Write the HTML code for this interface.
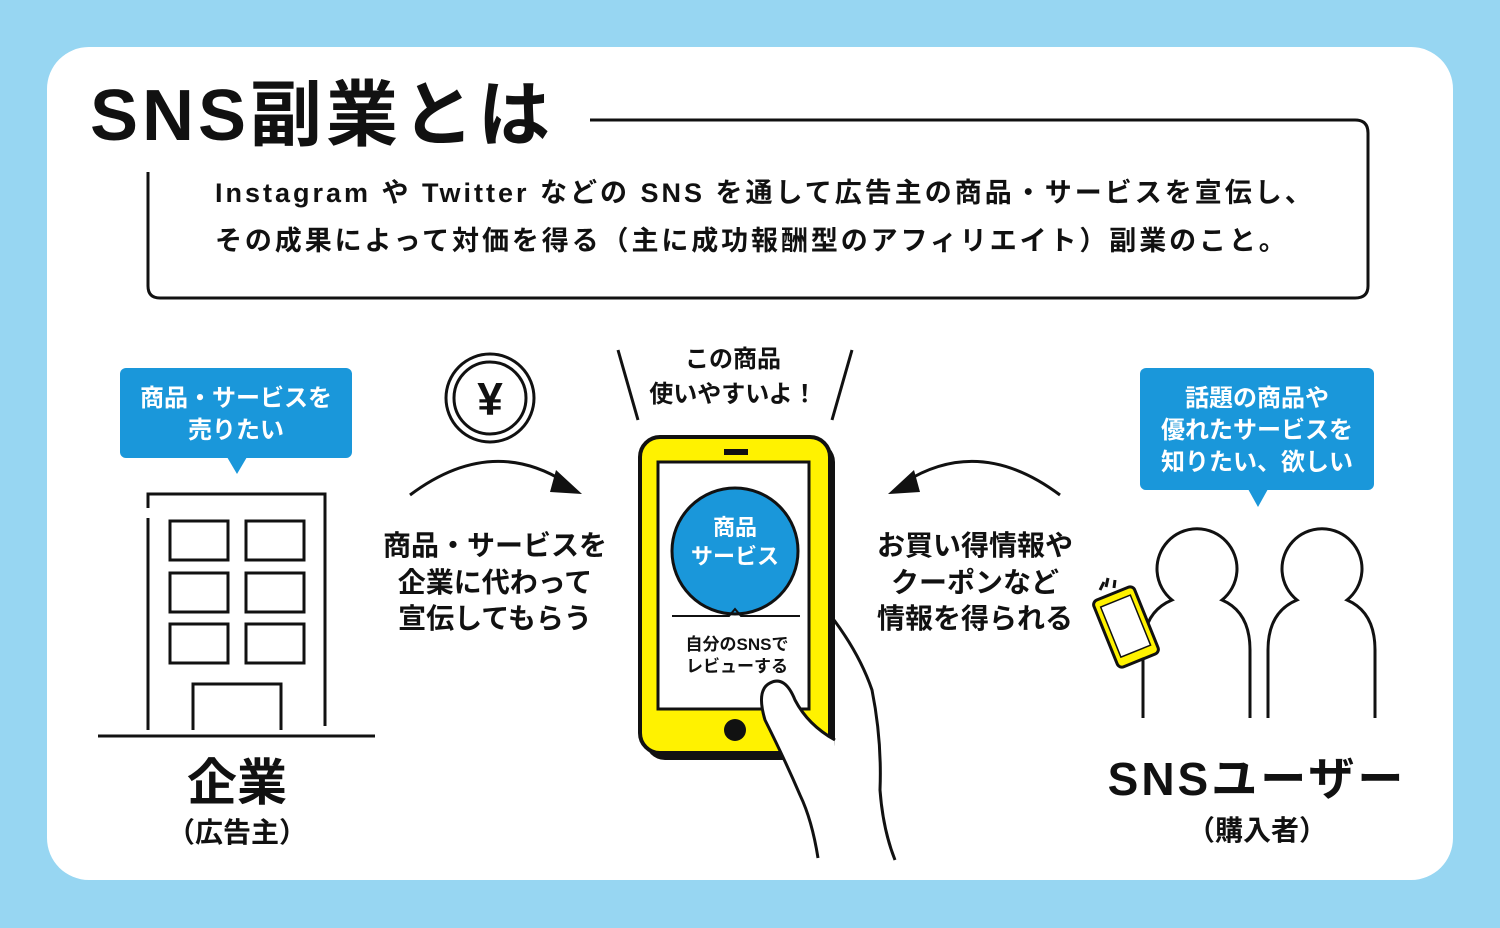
<!DOCTYPE html>
<html><head><meta charset="utf-8"><style>
html,body{margin:0;padding:0;width:1500px;height:928px;overflow:hidden;background:#97d6f2}
svg{display:block}
text{font-family:"Liberation Sans","Noto Sans CJK JP",sans-serif;font-weight:bold;fill:#111}
</style></head><body>
<svg width="1500" height="928" viewBox="0 0 1500 928">
<rect x="0" y="0" width="1500" height="928" fill="#97d6f2"/>
<rect x="47" y="47" width="1406" height="833" rx="42" fill="#fff"/>
<text x="90" y="140" font-size="72" letter-spacing="4">SNS副業とは</text>
<path d="M590 120 H1355 Q1368 120 1368 133 V286 Q1368 298 1355 298 H160 Q148 298 148 286 V172" fill="none" stroke="#111" stroke-width="3"/>
<text x="215" y="202" font-size="27" letter-spacing="3">Instagram や Twitter などの SNS を通して広告主の商品・サービスを宣伝し、</text>
<text x="215" y="250" font-size="27" letter-spacing="2.9">その成果によって対価を得る（主に成功報酬型のアフィリエイト）副業のこと。</text>

<!-- left bubble -->
<rect x="120" y="368" width="232" height="90" rx="6" fill="#1a97da"/>
<path d="M227 457 L237 474 L247 457 Z" fill="#1a97da"/>
<text x="236" y="406" font-size="24" text-anchor="middle" style="fill:#fff">商品・サービスを</text>
<text x="236" y="438" font-size="24" text-anchor="middle" style="fill:#fff">売りたい</text>

<!-- building -->
<g fill="none" stroke="#111" stroke-width="3">
<path d="M148 508 V494 H325 V726"/>
<path d="M148 518 V730"/>
<rect x="170" y="521" width="58" height="39"/><rect x="246" y="521" width="58" height="39"/>
<rect x="170" y="573" width="58" height="39"/><rect x="246" y="573" width="58" height="39"/>
<rect x="170" y="624" width="58" height="39"/><rect x="246" y="624" width="58" height="39"/>
<path d="M193 730 V684 H281 V730"/>
<path d="M98 736 H375"/>
</g>
<text x="237" y="800" font-size="50" text-anchor="middle">企業</text>
<text x="237" y="842" font-size="28" text-anchor="middle">（広告主）</text>

<!-- yen coin -->
<circle cx="490" cy="398" r="44" fill="none" stroke="#111" stroke-width="3"/>
<circle cx="490" cy="398" r="36" fill="none" stroke="#111" stroke-width="3"/>
<text x="490" y="415" font-size="46" text-anchor="middle">¥</text>
<path d="M410 495 Q490 435 565 482" fill="none" stroke="#111" stroke-width="3"/>
<path d="M556 470 L582 494 L550 492 Z" fill="#111"/>
<text x="495" y="555" font-size="28" text-anchor="middle">商品・サービスを</text>
<text x="495" y="592" font-size="28" text-anchor="middle">企業に代わって</text>
<text x="495" y="628" font-size="28" text-anchor="middle">宣伝してもらう</text>

<!-- center -->
<path d="M618 350 L638 420 M852 350 L832 420" stroke="#111" stroke-width="3"/>
<text x="733" y="367" font-size="24" text-anchor="middle">この商品</text>
<text x="733" y="402" font-size="24" text-anchor="middle">使いやすいよ！</text>
<rect x="645" y="442" width="190" height="318" rx="20" fill="#111"/>
<rect x="640" y="437" width="190" height="316" rx="20" fill="#fff200" stroke="#111" stroke-width="4"/>
<rect x="658" y="462" width="151" height="247" fill="#fff" stroke="#111" stroke-width="3"/>
<rect x="724" y="449" width="24" height="6" fill="#111"/>
<circle cx="735" cy="730" r="11" fill="#111"/>
<circle cx="735" cy="551" r="63" fill="#1a97da" stroke="#111" stroke-width="3"/>
<text x="735" y="535" font-size="22" text-anchor="middle" style="fill:#fff">商品</text>
<text x="735" y="564" font-size="22" text-anchor="middle" style="fill:#fff">サービス</text>
<path d="M672 616 H729 L735 609 L741 616 H800" fill="none" stroke="#111" stroke-width="2"/>
<text x="737" y="650" font-size="17" text-anchor="middle">自分のSNSで</text>
<text x="737" y="672" font-size="17" text-anchor="middle">レビューする</text>
<path d="M834 620 Q860 655 872 690 Q882 740 880 790 Q883 830 895 860" fill="none" stroke="#111" stroke-width="3"/>
<path d="M818 858 Q812 820 800 795 Q785 760 765 720 Q756 690 770 683 Q785 675 795 700 Q808 725 835 740" fill="#fff" stroke="#111" stroke-width="3"/>

<!-- right arrow -->
<path d="M1060 495 Q980 435 905 482" fill="none" stroke="#111" stroke-width="3"/>
<path d="M914 470 L888 494 L920 492 Z" fill="#111"/>
<text x="975" y="555" font-size="28" text-anchor="middle">お買い得情報や</text>
<text x="975" y="592" font-size="28" text-anchor="middle">クーポンなど</text>
<text x="975" y="628" font-size="28" text-anchor="middle">情報を得られる</text>

<!-- right bubble -->
<rect x="1140" y="368" width="234" height="122" rx="6" fill="#1a97da"/>
<path d="M1248 489 L1258 507 L1268 489 Z" fill="#1a97da"/>
<text x="1257" y="406" font-size="24" text-anchor="middle" style="fill:#fff">話題の商品や</text>
<text x="1257" y="438" font-size="24" text-anchor="middle" style="fill:#fff">優れたサービスを</text>
<text x="1257" y="470" font-size="24" text-anchor="middle" style="fill:#fff">知りたい、欲しい</text>

<!-- people -->
<g fill="none" stroke="#111" stroke-width="3">
<path d="M1143 718 V650 Q1143 612 1172 600 A40 40 0 1 1 1222 600 Q1250 612 1250 650 V718"/>
<path d="M1268 718 V650 Q1268 612 1297 600 A40 40 0 1 1 1347 600 Q1375 612 1375 650 V718"/>
<path d="M1100 590 L1104 582 M1106 587 L1108 578 M1114 588 L1115 580"/>
</g>
<g transform="translate(1126 627) rotate(-22)">
<rect x="-22" y="-36" width="44" height="72" rx="5" fill="#fff200" stroke="#111" stroke-width="3"/>
<rect x="-16" y="-28" width="32" height="54" fill="#fff" stroke="#111" stroke-width="1.5"/>
</g>
<text x="1257" y="795" font-size="46" text-anchor="middle" letter-spacing="3">SNSユーザー</text>
<text x="1257" y="840" font-size="28" text-anchor="middle">（購入者）</text>
</svg>
</body></html>
